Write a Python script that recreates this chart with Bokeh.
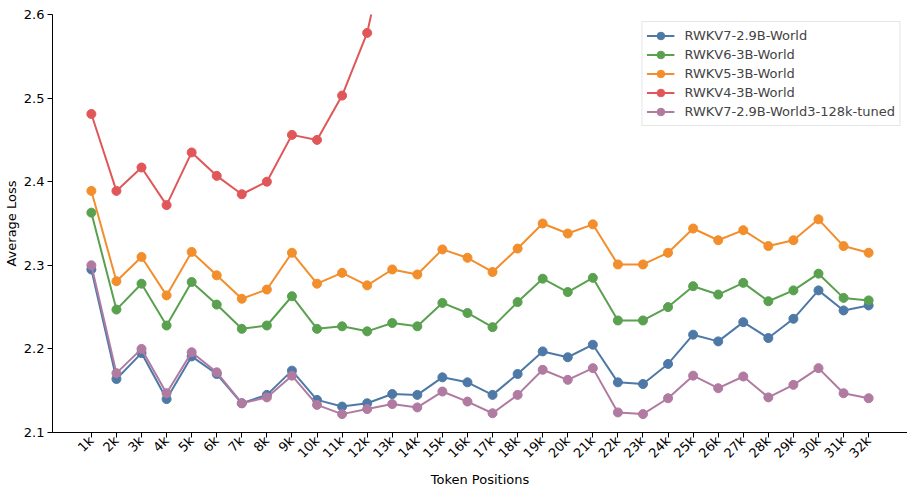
import math
from bokeh.plotting import figure
from bokeh.models import Range1d, FixedTicker
from bokeh.embed import file_html
from bokeh.resources import INLINE

positions = ["1k", "2k", "3k", "4k", "5k", "6k", "7k", "8k", "9k", "10k", "11k", "12k",
             "13k", "14k", "15k", "16k", "17k", "18k", "19k", "20k", "21k", "22k", "23k",
             "24k", "25k", "26k", "27k", "28k", "29k", "30k", "31k", "32k"]

rwkv7 = [2.295, 2.164, 2.195, 2.140, 2.191, 2.170, 2.135, 2.145, 2.174, 2.139, 2.131, 2.135,
         2.146, 2.145, 2.166, 2.160, 2.145, 2.170, 2.197, 2.190, 2.205, 2.160, 2.158,
         2.182, 2.217, 2.209, 2.232, 2.213, 2.236, 2.270, 2.246, 2.252]
rwkv6 = [2.363, 2.247, 2.278, 2.228, 2.280, 2.253, 2.224, 2.228, 2.263, 2.224, 2.227, 2.221,
         2.231, 2.227, 2.255, 2.243, 2.226, 2.256, 2.284, 2.268, 2.285, 2.234, 2.234,
         2.250, 2.275, 2.265, 2.279, 2.257, 2.270, 2.290, 2.261, 2.258]
rwkv5 = [2.389, 2.281, 2.310, 2.264, 2.316, 2.288, 2.260, 2.271, 2.315, 2.278, 2.291, 2.276,
         2.295, 2.289, 2.319, 2.309, 2.292, 2.320, 2.350, 2.338, 2.349, 2.301, 2.301,
         2.315, 2.344, 2.330, 2.342, 2.323, 2.330, 2.355, 2.323, 2.315]
rwkv4 = [2.481, 2.389, 2.417, 2.372, 2.435, 2.407, 2.385, 2.400, 2.456, 2.450, 2.503, 2.578,
         2.715]
rwkv7_tuned = [2.300, 2.171, 2.200, 2.147, 2.196, 2.172, 2.135, 2.142, 2.168, 2.133, 2.122, 2.128,
               2.134, 2.130, 2.149, 2.137, 2.123, 2.145, 2.175, 2.163, 2.177, 2.124, 2.122,
               2.141, 2.168, 2.153, 2.167, 2.142, 2.157, 2.177, 2.147, 2.141]

series_names = ["RWKV7-2.9B-World", "RWKV6-3B-World", "RWKV5-3B-World", "RWKV4-3B-World",
                "RWKV7-2.9B-World3-128k-tuned"]
series_values = [rwkv7, rwkv6, rwkv5, rwkv4, rwkv7_tuned]
colors = ["#4e79a7", "#59a14f", "#f28e2b", "#e15759", "#b07aa1"]
y_ticks = [2.1, 2.2, 2.3, 2.4, 2.5, 2.6]

FONT = "DejaVu Sans"
n = len(positions)
pad = 0.05 * (n - 1)

p = figure(width=907, height=490, output_backend="svg", toolbar_location=None,
           x_range=Range1d(-pad, n - 1 + pad), y_range=Range1d(2.1, 2.6),
           min_border_left=48, min_border_right=0, min_border_top=14, min_border_bottom=51)
p.outline_line_color = None
p.xgrid.visible = False
p.ygrid.visible = False
p.background_fill_color = "white"

for name, vals, c in zip(series_names, series_values, colors):
    xs = list(range(len(vals)))
    p.line(xs, vals, line_color=c, line_width=2, legend_label=name)
    p.scatter(xs, vals, size=9, fill_color=c, line_color=c, legend_label=name)

p.xaxis.ticker = FixedTicker(ticks=list(range(n)))
p.xaxis.major_label_overrides = {i: lab for i, lab in enumerate(positions)}
p.xaxis.major_label_orientation = math.pi / 4
p.yaxis.ticker = FixedTicker(ticks=y_ticks)
p.yaxis.major_label_overrides = {t: f"{t:.1f}" for t in y_ticks}

for ax in (p.xaxis[0], p.yaxis[0]):
    ax.axis_line_color = "black"
    ax.axis_line_width = 1
    ax.major_tick_line_color = "black"
    ax.major_tick_out = 5
    ax.major_tick_in = 0
    ax.minor_tick_line_color = None
    ax.major_label_text_font = FONT
    ax.major_label_text_font_size = "13px"
    ax.major_label_text_color = "black"
    ax.axis_label_text_font = FONT
    ax.axis_label_text_font_size = "13px"
    ax.axis_label_text_font_style = "normal"
    ax.axis_label_text_color = "black"

p.xaxis.axis_label = "Token Positions"
p.yaxis.axis_label = "Average Loss"
p.xaxis.major_label_standoff = 1
p.xaxis.axis_label_standoff = 3
p.yaxis.major_label_standoff = 3
p.yaxis.axis_label_standoff = 2

lg = p.legend[0]
lg.location = "top_right"
lg.margin = 7
lg.padding = 4
lg.spacing = 0
lg.label_height = 19
lg.glyph_height = 19
lg.glyph_width = 28
lg.label_standoff = 10
lg.label_text_font = FONT
lg.label_text_font_size = "13px"
lg.border_line_color = "#cccccc"
lg.border_line_width = 1
lg.background_fill_color = "white"
lg.background_fill_alpha = 0.8

open("out.html", "w").write(file_html(p, INLINE))
